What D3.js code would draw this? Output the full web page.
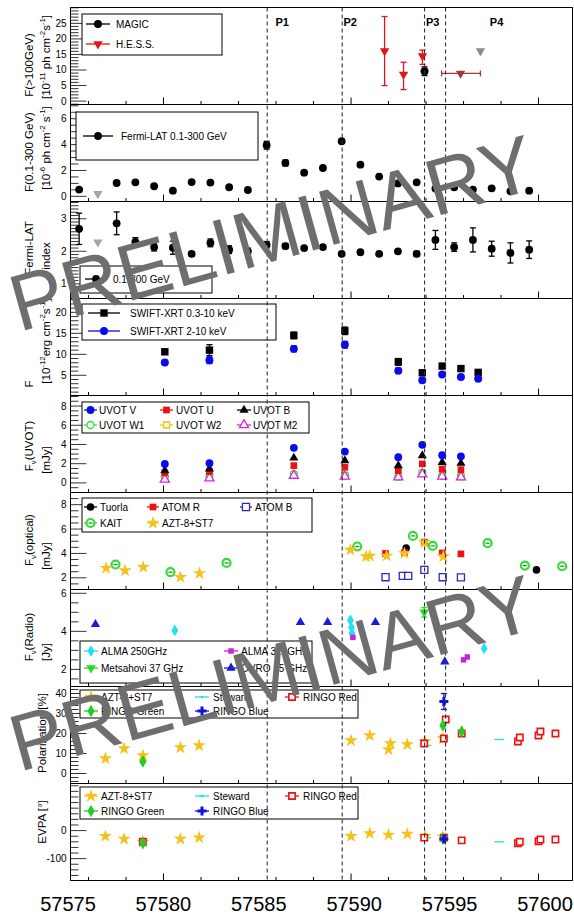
<!DOCTYPE html>
<html>
<head>
<meta charset="utf-8">
<script src="https://cdn.jsdelivr.net/npm/d3@7"></script>
<style>
  body { margin: 0; background: #fff; }
  svg { display: block; }
  text { font-family: "Liberation Sans", Arial, Helvetica, sans-serif; }
</style>
</head>
<body>
<svg id="chart" width="574" height="917"></svg>
<script>
// ---------------- data ----------------
const xTickLabels = [57575, 57580, 57585, 57590, 57595, 57600];
const periodLines = [57585.53, 57589.53, 57593.92, 57595.04];
const periodNames = ["P1", "P2", "P3", "P4"];
const periodLabelAt = [57585.97, 57589.6, 57594.0, 57597.4];

// VHE  [mjd, flux, low, high]
const magic = [[57593.92, 9.6, 8.2, 11.0]];
const hess = [[57591.79, 16.1, 5.0, 27.2], [57592.8, 8.6, 3.7, 12.5], [57593.81, 14.5, 11.8, 16.4]];
// averaged H.E.S.S. point [mjd, flux, from, to]
const hessAvg = [[57595.84, 8.9, 57594.83, 57596.9]];
const hessUL = [[57596.9, 16.1]];

// Fermi-LAT flux [mjd, flux, err]
const fermiFlux = [
  [57575.5, 0.52, 0.1], [57577.5, 1.03, 0.1], [57578.5, 1.08, 0.1], [57579.5, 0.78, 0.1],
  [57580.5, 0.44, 0.08], [57581.5, 1.1, 0.1], [57582.5, 1.06, 0.1], [57583.5, 0.7, 0.1],
  [57584.5, 0.49, 0.08], [57585.5, 3.95, 0.3], [57586.5, 2.58, 0.22], [57587.5, 1.83, 0.12],
  [57588.5, 2.19, 0.12], [57589.5, 4.26, 0.15], [57590.5, 2.45, 0.12], [57591.5, 1.53, 0.1],
  [57592.5, 1.0, 0.1], [57593.5, 1.08, 0.1], [57594.5, 0.6, 0.1], [57595.5, 0.7, 0.1],
  [57596.5, 0.52, 0.08], [57597.5, 0.62, 0.1], [57598.5, 0.39, 0.08], [57599.5, 0.44, 0.08]
];
const fermiFluxUL = [[57576.5, 0.2]];

// Fermi-LAT photon index [mjd, index, err]
const fermiIndex = [
  [57575.5, 2.69, 0.48], [57577.5, 2.86, 0.35], [57578.5, 2.29, 0.13], [57579.5, 2.13, 0.12],
  [57580.5, 2.11, 0.2], [57581.5, 1.92, 0.07], [57582.5, 2.26, 0.12], [57583.5, 2.05, 0.12],
  [57584.5, 2.0, 0.1], [57585.5, 2.2, 0.1], [57586.5, 2.16, 0.08], [57587.5, 2.1, 0.06],
  [57588.5, 2.13, 0.05], [57589.5, 1.92, 0.05], [57590.5, 1.97, 0.05], [57591.5, 1.92, 0.05],
  [57592.5, 2.0, 0.06], [57593.5, 1.92, 0.08], [57594.5, 2.35, 0.29], [57595.5, 2.13, 0.13],
  [57596.5, 2.35, 0.37], [57597.5, 2.08, 0.23], [57598.5, 1.95, 0.31], [57599.5, 2.05, 0.27]
];
const fermiIndexUL = [[57576.5, 2.28]];

// Swift-XRT [mjd, flux, err]
const xrtSoft = [
  [57580.07, 10.6, 0.6], [57582.45, 11.0, 1.3], [57586.95, 14.5, 0.8], [57589.67, 15.6, 0.9],
  [57592.52, 8.2, 0.8], [57593.8, 5.6, 0.5], [57594.86, 7.2, 0.5], [57595.86, 6.6, 0.5], [57596.78, 5.7, 0.5]
];
const xrtHard = [
  [57580.07, 8.05, 0.5], [57582.45, 8.6, 0.8], [57586.95, 11.3, 0.7], [57589.67, 12.3, 0.8],
  [57592.52, 6.1, 0.6], [57593.8, 3.8, 0.4], [57594.86, 5.2, 0.4], [57595.86, 4.6, 0.4], [57596.78, 4.2, 0.4]
];

// Swift-UVOT [mJy]
const uvotDays = [57580.07, 57582.45, 57586.95, 57589.67, 57592.52, 57593.8, 57594.86, 57595.86];
const uvotV  = [1.98, 2.05, 3.65, 3.26, 2.67, 3.96, 2.88, 2.77];
const uvotB  = [1.28, 1.45, 2.6, 2.32, 1.8, 2.85, 2.15, 2.05];
const uvotU  = [1.04, 1.18, 1.8, 1.63, 1.28, 1.98, 1.45, 1.38];
const uvotW1 = [0.62, 0.72, 0.92, 0.82, 0.66, 1.08, 0.74, 0.7];
const uvotW2 = [0.5, 0.62, 0.84, 0.74, 0.62, 1.0, 0.7, 0.64];
const uvotM2 = [0.35, 0.48, 0.76, 0.66, 0.59, 0.9, 0.66, 0.59];

// optical [mjd, mJy]
const tuorla = [[57592.94, 4.45], [57599.89, 2.65]];
const atomR = [[57591.84, 4.0], [57592.85, 4.06], [57593.91, 4.92], [57594.86, 4.04], [57595.86, 3.96]];
const atomB = [[57591.84, 2.05], [57592.76, 2.16], [57593.05, 2.16], [57593.91, 2.65], [57594.89, 2.05], [57595.86, 2.03]];
const kait = [[57577.44, 3.09], [57580.37, 2.46], [57583.36, 3.22], [57590.33, 4.57], [57593.3, 5.44],
  [57594.36, 4.62], [57597.28, 4.84], [57599.27, 3.0], [57601.26, 2.95]];
const aztOpt = [[57576.94, 2.8], [57577.95, 2.6], [57578.92, 2.87], [57580.9, 2.05], [57581.92, 2.37],
  [57589.97, 4.29], [57590.8, 3.75], [57591.0, 3.8], [57591.9, 3.8], [57592.85, 4.0], [57593.91, 4.9], [57594.92, 3.75]];

// radio [mjd, Jy]
const alma250 = [[57580.6, 4.05], [57589.97, 4.58], [57590.02, 4.2], [57590.05, 3.9], [57597.1, 3.1]];
const alma320 = [[57590.1, 3.68], [57596.0, 2.5], [57596.2, 2.65]];
const metsahovi = [[57593.9, 5.0]];
const ovro = [[57576.37, 4.37], [57587.3, 4.47], [57588.75, 4.47], [57591.3, 4.47], [57595.0, 2.4]];

// polarization degree [mjd, %]
const aztPol = [[57576.9, 7.5], [57577.9, 12.5], [57578.9, 9], [57580.9, 13], [57581.9, 14],
  [57590.0, 16.5], [57591.0, 19], [57592.0, 12], [57592.1, 15], [57593.0, 14.5], [57593.95, 16], [57594.9, 17.5]];
const stewardPol = [[57594.0, 14], [57597.9, 17]];
const ringoRed = [[57593.9, 15], [57594.95, 17.5], [57595.05, 27], [57595.9, 20],
  [57598.9, 16], [57599.0, 18], [57600.0, 19], [57600.1, 21], [57600.9, 20]];
const ringoGreen = [[57578.9, 6], [57594.9, 24], [57595.9, 21]];
const ringoBlue = [[57594.95, 36]];

// polarization angle [mjd, deg]
const aztEvpa = [[57576.9, -20], [57577.9, -30], [57578.9, -40], [57580.9, -30], [57581.9, -25],
  [57590.0, -20], [57591.0, -10], [57592.0, -15], [57593.0, -12], [57593.95, -20], [57594.9, -22]];
const stewardEvpa = [[57594.0, -25], [57597.9, -40]];
const ringoRedEvpa = [[57578.9, -40], [57593.9, -25], [57594.95, -25], [57595.9, -35],
  [57598.9, -45], [57599.0, -40], [57600.0, -38], [57600.1, -32], [57600.9, -32]];
const ringoGreenEvpa = [[57578.9, -45], [57594.9, -28]];
const ringoBlueEvpa = [[57594.95, -30]];

// ---------------- layout ----------------
const left = 70.5, right = 572.5, plotTop = 7.5, panelH = 97;
const svg = d3.select("#chart");
const x = d3.scaleLinear().domain([57575.04, 57601.81]).range([left, right]);
const xLab = d3.scaleLinear().domain([57575, 57600]).range([68, 545]);

const panelDefs = [
  { domain: [-1.1, 30.1], major: [0, 5, 10, 15, 20, 25], minor: 1,
    lines: [[["F(>100GeV)"]], [["[10"], ["-11", "sup"], [" ph cm"], ["-2", "sup"], ["s"], ["-1", "sup"], ["]"]]], yc: [65, 57] },
  { domain: [-0.4, 7.1], major: [0, 2, 4, 6], minor: 0.5,
    lines: [[["F(0.1-300 GeV)"]], [["[10"], ["-6", "sup"], [" ph cm"], ["-2", "sup"], [" s"], ["-1", "sup"], ["]"]]], yc: [152, 148] },
  { domain: [0.55, 3.53], major: [1, 2, 3], minor: 0.1,
    lines: [[["Fermi-LAT"]], [["index"]]], yc: [248, 256] },
  { domain: [0.19, 23.3], major: [5, 10, 15, 20], minor: 1,
    lines: [[["F"]], [["[10"], ["-12", "sup"], ["erg cm"], ["-2", "sup"], ["s"], ["-1", "sup"], ["]"]]], yc: [384, 341] },
  { domain: [-1.0, 9.1], major: [0, 2, 4, 6, 8], minor: 0.5,
    lines: [[["F"], ["ν", "sub"], ["(UVOT)"]], [["[mJy]"]]], yc: [446, 460] },
  { domain: [1.04, 9.0], major: [2, 4, 6, 8], minor: 0.5,
    lines: [[["F"], ["ν", "sub"], ["(optical)"]], [["[mJy]"]]], yc: [540, 556] },
  { domain: [1.1, 6.2], major: [2, 4, 6], minor: 0.5,
    lines: [[["F"], ["ν", "sub"], ["(Radio)"]], [["[Jy]"]]], yc: [637, 652] },
  { domain: [-5, 43.5], major: [0, 10, 20, 30, 40], minor: 2,
    lines: [[["Polarization [%]"]]], yc: [733] },
  { domain: [-178, 168], major: [-100, 0], minor: 20,
    lines: [[["EVPA [°]"]]], yc: [822] }
];

const panels = panelDefs.map((d, i) => {
  const y0 = plotTop + i * panelH;
  const y = d3.scaleLinear().domain(d.domain).range([y0 + panelH, y0]);
  return Object.assign({ y, y0, g: svg.append("g") }, d);
});

// ---------------- helpers ----------------
function richText(t, segs) {
  let shift = 0;
  segs.forEach(s => {
    const ts = t.append("tspan").text(s[0]);
    let target = 0;
    if (s[1] === "sup") { ts.attr("font-size", "0.68em"); target = -5; }
    if (s[1] === "sub") { ts.attr("font-size", "0.68em"); target = 3; }
    ts.attr("dy", target - shift);
    shift = target;
  });
}

const shapes = { circle: d3.symbolCircle, square: d3.symbolSquare, tri: d3.symbolTriangle,
  star: d3.symbolStar, diamond: d3.symbolDiamond, cross: d3.symbolCross };

function mark(g, m, cx, cy) {
  const p = g.append("path")
    .attr("d", d3.symbol(shapes[m.shape], m.size)())
    .attr("transform", "translate(" + cx + "," + cy + ")" + (m.rot ? " rotate(" + m.rot + ")" : ""));
  if (m.open) {
    p.attr("fill", "#fff").attr("stroke", m.color).attr("stroke-width", m.sw || 1.3);
  } else {
    p.attr("fill", m.color);
  }
  if (m.dash) {
    g.append("line").attr("x1", cx - 2).attr("x2", cx + 2).attr("y1", cy).attr("y2", cy)
      .attr("stroke", m.dash).attr("stroke-width", 1.2);
  }
}

function errY(g, cx, ya, yb, color) {
  g.append("line").attr("x1", cx).attr("x2", cx).attr("y1", ya).attr("y2", yb)
    .attr("stroke", color).attr("stroke-width", 1.3);
  [ya, yb].forEach(v => g.append("line").attr("x1", cx - 3).attr("x2", cx + 3)
    .attr("y1", v).attr("y2", v).attr("stroke", color).attr("stroke-width", 1.3));
}

const sty = {
  magic: { shape: "circle", size: 50, color: "#000" },
  hess: { shape: "tri", size: 38, color: "#e3141c", rot: 180 },
  hessAvg: { shape: "tri", size: 38, color: "#a0393a", rot: 180 },
  ul: { shape: "tri", size: 38, color: "#8c8c8c", rot: 180 },
  ulLight: { shape: "tri", size: 38, color: "#a5a5a5", rot: 180 },
  fermi: { shape: "circle", size: 48, color: "#000" },
  xrtSoft: { shape: "square", size: 55, color: "#000" },
  xrtHard: { shape: "circle", size: 50, color: "#0a0aee" },
  uV: { shape: "circle", size: 48, color: "#0a0aee" },
  uU: { shape: "square", size: 45, color: "#ee1111" },
  uB: { shape: "tri", size: 36, color: "#000" },
  uW1: { shape: "circle", size: 38, color: "#33dd33", open: true },
  uW2: { shape: "square", size: 36, color: "#f2c200", open: true },
  uM2: { shape: "tri", size: 36, color: "#e022e0", open: true },
  tuorla: { shape: "circle", size: 45, color: "#000" },
  atomR: { shape: "square", size: 45, color: "#ee1111" },
  atomB: { shape: "square", size: 50, color: "#2a2ac0", open: true },
  kait: { shape: "circle", size: 50, color: "#33dd33", open: true, sw: 2.2, dash: "#1a8a1a" },
  azt: { shape: "star", size: 55, color: "#f4c21c" },
  alma250: { shape: "diamond", size: 40, color: "#22e0ee" },
  alma320: { shape: "square", size: 30, color: "#cc22dd" },
  mets: { shape: "tri", size: 38, color: "#22dd22", rot: 180 },
  ovro: { shape: "tri", size: 38, color: "#1a1ae0" },
  steward: { shape: "square", size: 6, color: "#22dddd" },
  rRed: { shape: "square", size: 40, color: "#ee1111", open: true, sw: 1.6 },
  rGreen: { shape: "diamond", size: 45, color: "#22cc22" },
  rBlue: { shape: "cross", size: 45, color: "#1111dd" }
};

// ---------------- frames & axes ----------------
const xMinor = d3.range(57576, 57602, 2);
const xMajor = [57580, 57590, 57600];

panels.forEach(p => {
  const g = p.g;
  const y1 = p.y0 + panelH;
  g.append("rect").attr("x", left).attr("y", p.y0).attr("width", right - left).attr("height", panelH)
    .attr("fill", "none").attr("stroke", "#000").attr("stroke-width", 1);
  xMinor.forEach(v => {
    const len = xMajor.includes(v) ? 7 : 3.5;
    g.append("line").attr("x1", x(v)).attr("x2", x(v)).attr("y1", y1).attr("y2", y1 - len)
      .attr("stroke", "#000").attr("stroke-width", 1);
  });
  const [d0, d1] = p.domain;
  d3.range(Math.ceil(d0 / p.minor - 1e-6) * p.minor, d1, p.minor).forEach(v => {
    const isMajor = p.major.some(m => Math.abs(m - v) < 1e-6);
    g.append("line").attr("x1", left).attr("x2", left + (isMajor ? 16 : 8))
      .attr("y1", p.y(v)).attr("y2", p.y(v)).attr("stroke", "#000").attr("stroke-width", 0.8);
  });
  p.major.forEach(v => {
    g.append("text").attr("x", left - 4).attr("y", p.y(v) + 3.5).attr("text-anchor", "end")
      .attr("font-size", 10).text(v);
  });
  p.lines.forEach((segs, k) => {
    const bx = p.lines.length === 1 ? 46 : (k === 0 ? 33 : 50);
    const t = g.append("text").attr("text-anchor", "middle").attr("font-size", 11.5)
      .attr("transform", "translate(" + bx + "," + p.yc[k] + ") rotate(-90)");
    richText(t, segs);
  });
});

// dashed period lines
const botY = plotTop + 9 * panelH;
periodLines.forEach(v => {
  svg.append("line").attr("x1", x(v)).attr("x2", x(v)).attr("y1", plotTop).attr("y2", botY)
    .attr("stroke", "#333").attr("stroke-width", 1.1).attr("stroke-dasharray", "4,3");
});
periodNames.forEach((n, i) => {
  svg.append("text").attr("x", x(periodLabelAt[i])).attr("y", 26).attr("font-size", 11)
    .attr("font-weight", "bold").text(n);
});

// bottom labels
xTickLabels.forEach(v => {
  svg.append("text").attr("x", xLab(v)).attr("y", 911).attr("text-anchor", "middle")
    .attr("font-size", 20).text(v);
});

// ---------------- legends ----------------
function legend(g, box, rows, cols) {
  g.append("rect").attr("x", box[0]).attr("y", box[1]).attr("width", box[2] - box[0]).attr("height", box[3] - box[1])
    .attr("fill", "#fff").attr("stroke", "#000").attr("stroke-width", 1);
  rows.forEach((row, r) => row.forEach((e, c) => {
    const cx = cols[c][0], ly = cols.rowsY[r];
    const lw = cols[c][1];
    g.append("line").attr("x1", cx).attr("x2", cx + lw).attr("y1", ly).attr("y2", ly)
      .attr("stroke", e.line || e.m.color).attr("stroke-width", 1.3);
    if (e.m) mark(g, e.m, cx + lw / 2, ly);
    g.append("text").attr("x", cx + lw + cols[c][2]).attr("y", ly + 3.5).attr("font-size", 10).text(e.t);
  }));
}

// ---------------- panel 1: VHE ----------------
{
  const p = panels[0], g = p.g;
  legend(g, [82, 14, 222, 55], [[{ m: sty.magic, t: "MAGIC" }], [{ m: sty.hess, t: "H.E.S.S." }]],
    Object.assign([[86, 24, 6]], { rowsY: [24, 44] }));
  hess.forEach(d => { errY(g, x(d[0]), p.y(d[2]), p.y(d[3]), sty.hess.color); mark(g, sty.hess, x(d[0]), p.y(d[1])); });
  hessAvg.forEach(d => {
    g.append("line").attr("x1", x(d[2])).attr("x2", x(d[3])).attr("y1", p.y(d[1])).attr("y2", p.y(d[1]))
      .attr("stroke", sty.hessAvg.color).attr("stroke-width", 1.3);
    [d[2], d[3]].forEach(v => g.append("line").attr("x1", x(v)).attr("x2", x(v))
      .attr("y1", p.y(d[1]) - 3).attr("y2", p.y(d[1]) + 3).attr("stroke", sty.hessAvg.color).attr("stroke-width", 1.3));
    mark(g, sty.hessAvg, x(d[0]), p.y(d[1]));
  });
  hessUL.forEach(d => mark(g, sty.ul, x(d[0]), p.y(d[1])));
  magic.forEach(d => { errY(g, x(d[0]), p.y(d[2]), p.y(d[3]), "#000"); mark(g, sty.magic, x(d[0]), p.y(d[1])); });
}

// ---------------- panel 2: Fermi flux ----------------
{
  const p = panels[1], g = p.g;
  legend(g, [76, 112, 258, 160], [[{ m: sty.fermi, t: "Fermi-LAT 0.1-300 GeV" }]],
    Object.assign([[83, 30, 8]], { rowsY: [136] }));
  fermiFlux.forEach(d => { if (d[2] > 0.15) errY(g, x(d[0]), p.y(d[1] - d[2]), p.y(d[1] + d[2]), "#000");
    mark(g, sty.fermi, x(d[0]), p.y(d[1])); });
  fermiFluxUL.forEach(d => mark(g, sty.ulLight, x(d[0]), p.y(d[1])));
}

// ---------------- panel 3: Fermi index ----------------
{
  const p = panels[2], g = p.g;
  legend(g, [80, 266, 212, 293], [[{ m: sty.fermi, t: "0.1-300 GeV" }]],
    Object.assign([[85, 22, 6]], { rowsY: [279] }));
  fermiIndex.forEach(d => { if (d[2] > 0.06) errY(g, x(d[0]), p.y(d[1] - d[2]), p.y(d[1] + d[2]), "#000");
    mark(g, sty.fermi, x(d[0]), p.y(d[1])); });
  fermiIndexUL.forEach(d => mark(g, sty.ulLight, x(d[0]), p.y(d[1])));
}

// ---------------- panel 4: XRT ----------------
{
  const p = panels[3], g = p.g;
  legend(g, [82, 304, 276, 340], [[{ m: sty.xrtSoft, t: "SWIFT-XRT 0.3-10 keV" }], [{ m: sty.xrtHard, t: "SWIFT-XRT 2-10 keV" }]],
    Object.assign([[88, 32, 10]], { rowsY: [313, 331] }));
  xrtSoft.forEach(d => { errY(g, x(d[0]), p.y(d[1] - d[2]), p.y(d[1] + d[2]), "#000"); mark(g, sty.xrtSoft, x(d[0]), p.y(d[1])); });
  xrtHard.forEach(d => { errY(g, x(d[0]), p.y(d[1] - d[2]), p.y(d[1] + d[2]), sty.xrtHard.color); mark(g, sty.xrtHard, x(d[0]), p.y(d[1])); });
}

// ---------------- panel 5: UVOT ----------------
{
  const p = panels[4], g = p.g;
  legend(g, [82, 402, 309, 433],
    [[{ m: sty.uV, t: "UVOT V" }, { m: sty.uU, t: "UVOT U" }, { m: sty.uB, t: "UVOT B" }],
     [{ m: sty.uW1, t: "UVOT W1" }, { m: sty.uW2, t: "UVOT W2" }, { m: sty.uM2, t: "UVOT M2" }]],
    Object.assign([[84, 13, 2], [160, 13, 3], [237, 14, 2]], { rowsY: [410, 425] }));
  [[uvotW2, sty.uW2], [uvotW1, sty.uW1], [uvotM2, sty.uM2], [uvotU, sty.uU], [uvotB, sty.uB], [uvotV, sty.uV]]
    .forEach(([vals, m]) => vals.forEach((v, i) => mark(g, m, x(uvotDays[i]), p.y(v))));
}

// ---------------- panel 6: optical ----------------
{
  const p = panels[5], g = p.g;
  legend(g, [82, 498, 312, 532],
    [[{ m: sty.tuorla, t: "Tuorla" }, { m: sty.atomR, t: "ATOM R" }, { m: sty.atomB, t: "ATOM B" }],
     [{ m: sty.kait, t: "KAIT" }, { m: sty.azt, t: "AZT-8+ST7" }]],
    Object.assign([[84, 13, 3], [147, 12, 3], [240, 12, 3]], { rowsY: [507, 523] }));
  atomB.forEach(d => mark(g, sty.atomB, x(d[0]), p.y(d[1])));
  kait.forEach(d => mark(g, sty.kait, x(d[0]), p.y(d[1])));
  tuorla.forEach(d => mark(g, sty.tuorla, x(d[0]), p.y(d[1])));
  atomR.forEach(d => mark(g, sty.atomR, x(d[0]), p.y(d[1])));
  aztOpt.forEach(d => mark(g, sty.azt, x(d[0]), p.y(d[1])));
}

// ---------------- panel 7: radio ----------------
{
  const p = panels[6], g = p.g;
  legend(g, [80, 641, 312, 683],
    [[{ m: sty.alma250, t: "ALMA 250GHz" }, { m: sty.alma320, t: "ALMA 320GHz" }],
     [{ m: sty.mets, t: "Metsahovi 37 GHz" }, { m: sty.ovro, t: "OVRO 15 GHz" }]],
    Object.assign([[84, 14, 3], [224, 14, 3]], { rowsY: [651, 668] }));
  alma250.forEach(d => mark(g, sty.alma250, x(d[0]), p.y(d[1])));
  alma320.forEach(d => mark(g, sty.alma320, x(d[0]), p.y(d[1])));
  metsahovi.forEach(d => { errY(g, x(d[0]), p.y(d[1] - 0.25), p.y(d[1] + 0.25), sty.mets.color); mark(g, sty.mets, x(d[0]), p.y(d[1])); });
  ovro.forEach(d => mark(g, sty.ovro, x(d[0]), p.y(d[1])));
}

// ---------------- panel 8: polarization ----------------
const polLegendRows = [[{ m: sty.azt, t: "AZT-8+ST7" }, { m: sty.steward, t: "Steward" }, { m: sty.rRed, t: "RINGO Red" }],
  [{ m: sty.rGreen, t: "RINGO Green" }, { m: sty.rBlue, t: "RINGO Blue" }]];
{
  const p = panels[7], g = p.g;
  aztPol.forEach(d => mark(g, sty.azt, x(d[0]), p.y(d[1])));
  stewardPol.forEach(d => g.append("line").attr("x1", x(d[0]) - 5).attr("x2", x(d[0]) + 5)
    .attr("y1", p.y(d[1])).attr("y2", p.y(d[1])).attr("stroke", "#22dddd").attr("stroke-width", 1.3));
  ringoRed.forEach(d => mark(g, sty.rRed, x(d[0]), p.y(d[1])));
  ringoGreen.forEach(d => mark(g, sty.rGreen, x(d[0]), p.y(d[1])));
  ringoBlue.forEach(d => { errY(g, x(d[0]), p.y(d[1] - 4), p.y(d[1] + 4), sty.rBlue.color); mark(g, sty.rBlue, x(d[0]), p.y(d[1])); });
  legend(g, [80, 690, 358, 718], polLegendRows,
    Object.assign([[84, 14, 3], [195, 14, 4], [285, 14, 4]], { rowsY: [697, 711] }));
}

// ---------------- panel 9: EVPA ----------------
{
  const p = panels[8], g = p.g;
  aztEvpa.forEach(d => mark(g, sty.azt, x(d[0]), p.y(d[1])));
  stewardEvpa.forEach(d => g.append("line").attr("x1", x(d[0]) - 5).attr("x2", x(d[0]) + 5)
    .attr("y1", p.y(d[1])).attr("y2", p.y(d[1])).attr("stroke", "#22dddd").attr("stroke-width", 1.3));
  ringoRedEvpa.forEach(d => mark(g, sty.rRed, x(d[0]), p.y(d[1])));
  ringoGreenEvpa.forEach(d => mark(g, sty.rGreen, x(d[0]), p.y(d[1])));
  ringoBlueEvpa.forEach(d => mark(g, sty.rBlue, x(d[0]), p.y(d[1])));
  legend(g, [80, 787, 358, 819], polLegendRows,
    Object.assign([[84, 14, 3], [195, 14, 4], [285, 14, 4]], { rowsY: [796, 811] }));
}

// ---------------- watermark ----------------
[[19, 332], [19, 772]].forEach(([wx, wy]) => {
  svg.append("text").attr("transform", "translate(" + wx + "," + wy + ") rotate(-15.5)")
    .attr("font-size", 80).attr("fill", "#6e6e6e").text("PRELIMINARY");
});
</script>
</body>
</html>
